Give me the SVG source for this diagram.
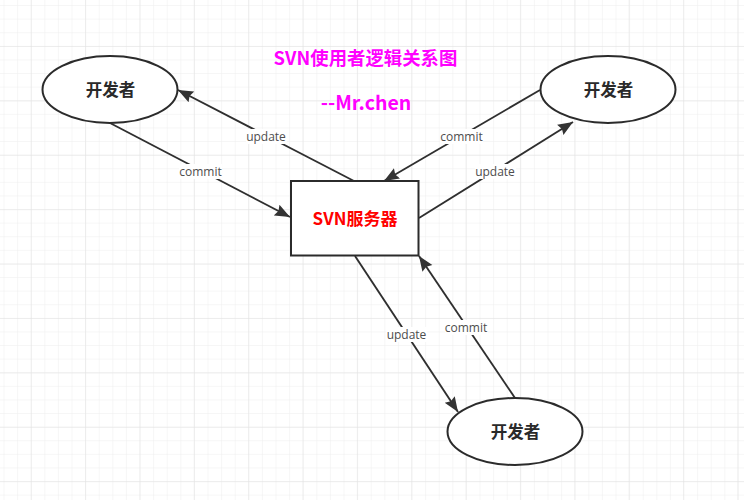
<svg xmlns="http://www.w3.org/2000/svg" width="744" height="500" viewBox="0 0 744 500">
<style>
.cjk{font-family:"Noto Sans CJK SC","Noto Sans",sans-serif;font-weight:700;text-anchor:middle}
.nodeText{font-size:16.500px;fill:#2a2a2a}
.shape{fill:#fff;stroke:#2b2b2b;stroke-width:2}
.edge{stroke:#2f2f2f;stroke-width:1.900;fill:none;marker-end:url(#arrow)}
.lblbg{fill:#fff}
.lbl{font-family:"Open Sans","Noto Sans",sans-serif;font-size:12px;fill:#4d4d4d;text-anchor:middle}
.magenta{fill:#f0f}
</style>
<defs>
<marker id="arrow" markerUnits="userSpaceOnUse" markerWidth="16" markerHeight="14" refX="15" refY="7" orient="auto"><path d="M0 1L15 7L0 13L2 7Z" fill="#333"/></marker>
<pattern id="minor" width="13.6" height="13.6" patternUnits="userSpaceOnUse" x="4.5" y="6"><path d="M13.6 0V13.6M0 13.6H13.6" stroke="#eeeeee" fill="none"/></pattern>
<pattern id="major" width="54.35" height="54.4" patternUnits="userSpaceOnUse" x="-22.6" y="-7.4"><path d="M54.35 0V54.4M0 54.4H54.35" stroke="#e2e2e2" fill="none"/></pattern>
</defs>
<rect width="744" height="500" fill="#fff"/>
<rect width="744" height="500" fill="url(#minor)"/>
<rect width="744" height="500" fill="url(#major)"/>
<g id="connectors">
<path class="edge" d="M354 181L178 90"/>
<path class="edge" d="M110 123L290 217"/>
<path class="edge" d="M540 90L384 181"/>
<path class="edge" d="M419 218L573 122"/>
<path class="edge" d="M355 256L458 412"/>
<path class="edge" d="M515 398L419 256"/>
<g>
<rect class="lblbg" x="246" y="129" width="41" height="15"/><text class="lbl" x="266" y="140.500">update</text>
<rect class="lblbg" x="179" y="164" width="43" height="15"/><text class="lbl" x="200.500" y="175.500">commit</text>
<rect class="lblbg" x="440" y="129" width="43" height="15"/><text class="lbl" x="461.500" y="140.500">commit</text>
<rect class="lblbg" x="475" y="164" width="41" height="15"/><text class="lbl" x="495" y="175.500">update</text>
<rect class="lblbg" x="386" y="327" width="41" height="15"/><text class="lbl" x="406.500" y="338.500">update</text>
<rect class="lblbg" x="445" y="320" width="43" height="15"/><text class="lbl" x="466" y="331.500">commit</text>
</g>
</g>
<g id="dev-left"><ellipse class="shape" cx="110" cy="89.500" rx="67.500" ry="33.500"/><text class="cjk nodeText" x="110.500" y="96">开发者</text></g>
<g id="dev-right"><ellipse class="shape" cx="608" cy="89.500" rx="67.500" ry="33.500"/><text class="cjk nodeText" x="608.500" y="96">开发者</text></g>
<g id="dev-bottom"><ellipse class="shape" cx="515" cy="431.500" rx="67.500" ry="33.500"/><text class="cjk nodeText" x="515.500" y="438">开发者</text></g>
<g id="server"><rect class="shape" x="291" y="181" width="127.500" height="74.500"/><text class="cjk" x="355" y="224.500" font-size="17" fill="#f00">SVN服务器</text></g>
<g id="title"><text class="cjk magenta" x="365.500" y="65" font-size="18.400">SVN使用者逻辑关系图</text><text class="cjk magenta" x="366" y="110" font-size="19.500">--Mr.chen</text></g>
</svg>
